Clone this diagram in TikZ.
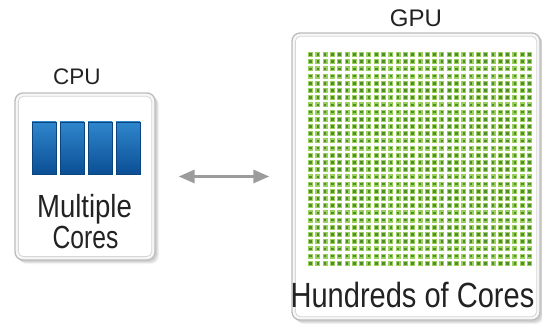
\documentclass[tikz,border=0pt]{standalone}
\usepackage{fontspec}
\setmainfont{Liberation Sans}
\usetikzlibrary{arrows.meta}
\definecolor{frame}{HTML}{BCBCBC}
\definecolor{innerframe}{HTML}{D6D6D6}
\definecolor{panelfill}{HTML}{F7F7F7}
\definecolor{shadowc}{HTML}{9A9A9A}
\definecolor{blueTop}{HTML}{2F86CC}
\definecolor{blueBot}{HTML}{0B4F95}
\definecolor{blueEdge}{HTML}{0A4580}
\definecolor{gLight}{HTML}{9CD05E}
\definecolor{gDark}{HTML}{4E8E28}
\definecolor{arrowc}{HTML}{9C9C9C}
\definecolor{txt}{HTML}{222222}
\tikzset{
  panel/.style={draw=frame, line width=1.3pt, fill=panelfill, rounded corners=8pt, inner sep=0pt},
  innerline/.style={draw=innerframe, line width=0.8pt, fill=white, rounded corners=5pt},
  panelshadow/.style={fill=shadowc, rounded corners=8pt},
  label/.style={text=txt, inner sep=0pt, anchor=base},
  linkarrow/.style={draw=arrowc, line width=3pt,
    {Triangle[length=16pt,width=13pt]}-{Triangle[length=16pt,width=13pt]}},
}
\newcommand{\wide}[2]{\scalebox{#1}[1]{#2}}
\begin{document}
\begin{tikzpicture}[x=1pt,y=-1pt]
\useasboundingbox (0,0) rectangle (542,329);

% soft shadows under the two panels
\foreach \o/\op in {4/0.12,3/0.18,2/0.25}{
  \fill[panelshadow, opacity=\op] (15+\o,93+\o) rectangle (155+\o,260+\o);
  \fill[panelshadow, opacity=\op] (292+\o,33+\o) rectangle (540+\o,320+\o);
}

% CPU panel
\node[panel, minimum width=140pt, minimum height=167pt] (cpu) at (85,176.5) {};
\draw[innerline] ([shift={(4,4)}]cpu.north west) rectangle ([shift={(-4,-4)}]cpu.south east);
\foreach \i in {0,...,3}
  \shade[top color=blueTop, bottom color=blueBot, draw=blueEdge, line width=0.4pt]
    (32+\i*28,122) rectangle ++(24,52);
\node[label, font=\fontsize{32}{32}\selectfont] (multiple) at (84.5,218) {\wide{0.86}{Multiple}};
\node[label, font=\fontsize{32}{32}\selectfont] (cores) at (85.5,248) {\wide{0.77}{Cores}};
\node[label, font=\fontsize{22.5}{22.5}\selectfont] (cpulabel) at (77,85) {CPU};

% GPU panel
\node[panel, minimum width=248pt, minimum height=287pt] (gpu) at (416,176.5) {};
\draw[innerline] ([shift={(4,4)}]gpu.north west) rectangle ([shift={(-4,-4)}]gpu.south east);
\foreach \c in {0,...,30}
  \foreach \r in {0,...,29}{
    \fill[gLight] (308+\c*7.3,52+\r*7.2) rectangle ++(5,5);
    \fill[gDark]  (309.2+\c*7.3,53.2+\r*7.2) rectangle ++(2.6,2.6);
  }
\node[label, font=\fontsize{35}{35}\selectfont] (hundreds) at (412.5,308) {\wide{0.83}{Hundreds of Cores}};
\node[label, font=\fontsize{24}{24}\selectfont] (gpulabel) at (416,27) {GPU};

% link between host and device
\draw[linkarrow, shorten <=23pt, shorten >=22pt] (cpu.east) -- (gpu.west);
\end{tikzpicture}
\end{document}
